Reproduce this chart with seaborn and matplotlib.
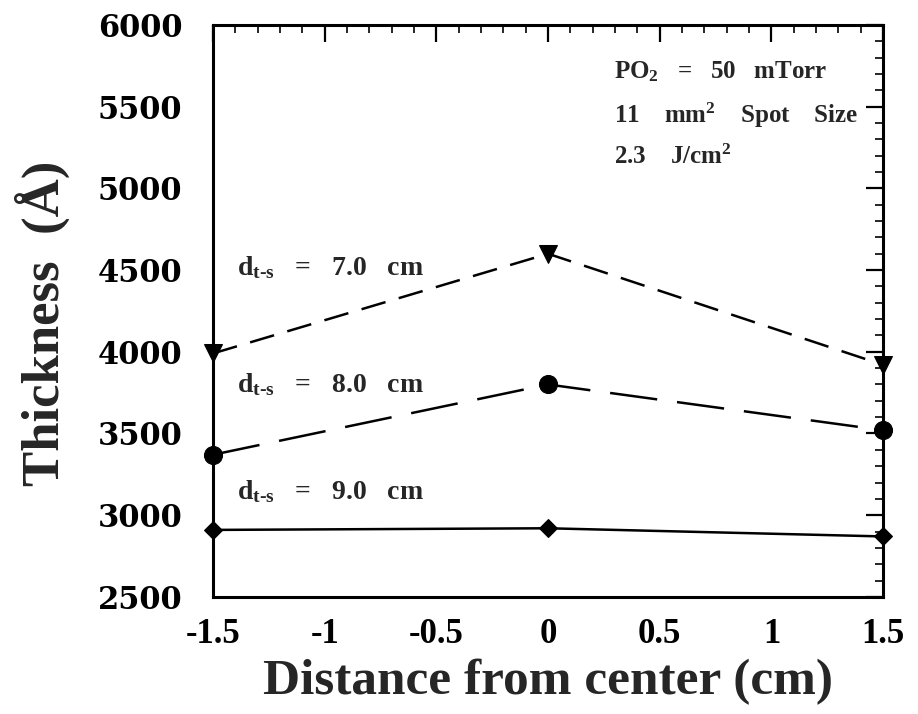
import matplotlib
matplotlib.use("Agg")
import matplotlib.pyplot as plt
import seaborn as sns
import pandas as pd
from matplotlib.ticker import MultipleLocator

# ---- data ----
positions = [-1.5, 0.0, 1.5]
thick_70 = [3990, 4600, 3920]   # d_t-s = 7.0 cm (triangles)
thick_80 = [3370, 3800, 3520]   # d_t-s = 8.0 cm (circles)
thick_90 = [2910, 2920, 2870]   # d_t-s = 9.0 cm (diamonds)
series_labels = ["7.0", "8.0", "9.0"]
x_ticks = [-1.5, -1, -0.5, 0, 0.5, 1, 1.5]
x_ticklabels = ["-1.5", "-1", "-0.5", "0", "0.5", "1", "1.5"]
y_ticks = [2500, 3000, 3500, 4000, 4500, 5000, 5500, 6000]
info_lines = [r"PO$_{\mathbf{2}}$   =   50   mTorr",
              r"11    mm$^{\mathbf{2}}$    Spot    Size",
              r"2.3    J/cm$^{\mathbf{2}}$"]

sns.set_theme(style="white")
plt.rcParams["font.family"] = ["Liberation Serif", "DejaVu Serif"]
plt.rcParams["font.weight"] = "bold"
plt.rcParams["mathtext.fontset"] = "custom"
plt.rcParams["mathtext.rm"] = "Liberation Serif:bold"
plt.rcParams["mathtext.bf"] = "Liberation Serif:bold"
plt.rcParams["mathtext.it"] = "Liberation Serif:bold"

fig = plt.figure(figsize=(9.18, 7.14), dpi=100)
ax = fig.add_axes([0.232, 0.164, 0.730, 0.801])

df = pd.DataFrame({"x": positions * 3,
                   "y": thick_70 + thick_80 + thick_90,
                   "s": [series_labels[0]] * 3 + [series_labels[1]] * 3 + [series_labels[2]] * 3})

styles = {
    "7.0": dict(marker="v", markersize=13, linestyle=(0, (10, 5.5))),
    "8.0": dict(marker="o", markersize=13, linestyle=(0, (19, 8))),
    "9.0": dict(marker="D", markersize=9.5, linestyle="-"),
}
for lab in series_labels:
    sub = df[df["s"] == lab]
    sns.lineplot(data=sub, x="x", y="y", ax=ax, color="black", linewidth=1.8,
                 markeredgecolor="black", markerfacecolor="black", clip_on=False,
                 **styles[lab])

ax.set_xlim(-1.5, 1.5)
ax.set_ylim(2500, 6000)
ax.set_xticks(x_ticks)
ax.set_xticklabels(x_ticklabels)
ax.set_yticks(y_ticks)
ax.xaxis.set_minor_locator(MultipleLocator(0.1))
ax.yaxis.set_minor_locator(MultipleLocator(100))
ax.tick_params(which="major", direction="in", length=12, width=1.6,
               top=True, right=True, labelsize=25, colors="black")
ax.tick_params(which="minor", direction="in", length=6, width=1.4,
               top=True, right=True)
ax.tick_params(axis="y", pad=22)
ax.tick_params(axis="x", pad=15)
for lbl in ax.get_xticklabels():
    lbl.set_fontweight("bold")
for lbl in ax.get_yticklabels():
    lbl.set_fontweight("bold")
    lbl.set_fontfamily("DejaVu Serif")
    lbl.set_fontsize(22)
for sp in ax.spines.values():
    sp.set_color("black")
    sp.set_linewidth(2.2)

ax.set_xlabel("Distance from center (cm)", fontsize=37, fontweight="bold", labelpad=6)
ax.set_ylabel("Thickness  (Å)", fontsize=38, fontweight="bold")
ax.yaxis.set_label_coords(-0.213, 0.478)

# series annotations
lab_y = [4513, 3797, 3142]
for lab, yy in zip(series_labels, lab_y):
    ax.text(-1.393, yy, r"d$_{\mathbf{t}\text{-}\mathbf{s}}$   =   " + lab + "   cm",
            fontsize=20, fontweight="bold", va="center", ha="left")

info_y = [5712, 5449, 5192]
for t, yy in zip(info_lines, info_y):
    ax.text(0.295, yy, t, fontsize=18, fontweight="bold", va="center", ha="left")

fig.savefig("out.png", dpi=100)
